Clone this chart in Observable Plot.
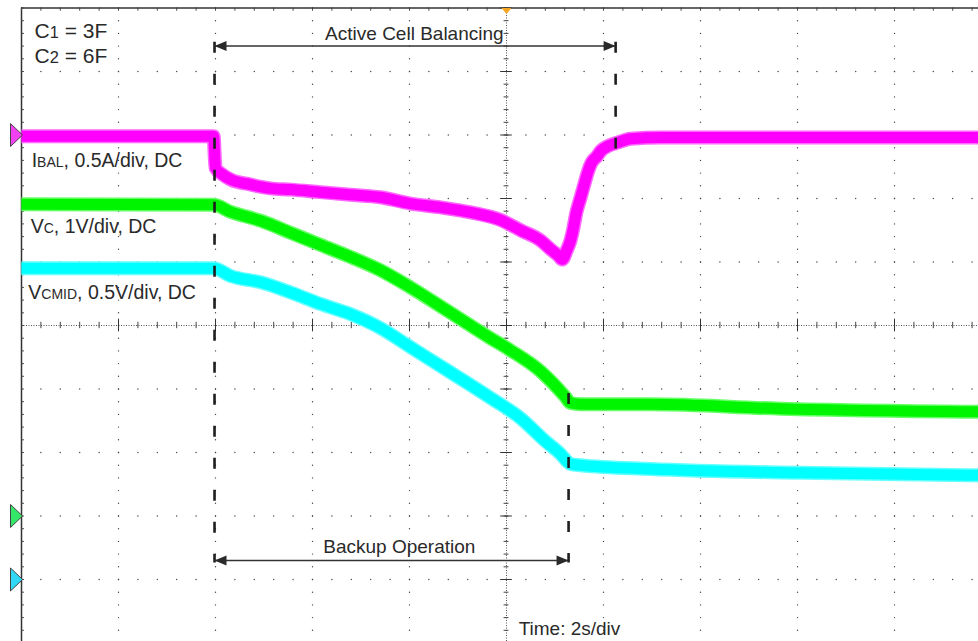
<!DOCTYPE html>
<html><head><meta charset="utf-8">
<script src="https://cdn.jsdelivr.net/npm/d3@7"></script>
<script src="https://cdn.jsdelivr.net/npm/@observablehq/plot@0.6"></script>
<style>
html,body{margin:0;padding:0;background:#fff;}
#chart{width:978px;height:641px;overflow:hidden;}
</style></head><body><div id="chart"></div>
<script>
// ---- data read from the scope capture (time in s, 2 s/div, trigger at centre) ----
const ibalTime = [-10, -6.04, -6.0, -5.86, -5.69, -5.28, -4.87, -4.45, -3.84, -3.22, -2.60, -1.98, -1.36, -0.74, -0.12, 0.29, 0.70, 0.91, 1.07, 1.15, 1.24, 1.32, 1.37, 1.44, 1.53, 1.61, 1.67, 1.75, 1.86, 1.96, 2.08, 2.29, 2.56, 3.18, 10];
const ibalAmps = [-0.01, -0.01, -0.26, -0.31, -0.35, -0.39, -0.42, -0.43, -0.45, -0.47, -0.49, -0.54, -0.57, -0.61, -0.67, -0.75, -0.83, -0.90, -0.95, -0.98, -0.91, -0.83, -0.75, -0.61, -0.49, -0.38, -0.30, -0.22, -0.17, -0.12, -0.09, -0.06, -0.03, -0.02, -0.02];
const vcTime = [-10, -6.04, -5.69, -5.07, -4.45, -3.84, -3.22, -2.60, -1.98, -1.15, -0.33, 0.08, 0.70, 1.22, 1.32, 1.53, 2.97, 5.65, 10];
const vcVolts = [4.91, 4.90, 4.79, 4.65, 4.46, 4.27, 4.08, 3.87, 3.60, 3.20, 2.80, 2.61, 2.28, 1.87, 1.78, 1.76, 1.76, 1.69, 1.64];
const vcmidTime = [-10, -6.04, -5.69, -5.07, -4.45, -3.84, -3.22, -2.60, -1.98, -1.15, -0.33, 0.29, 0.80, 1.11, 1.32, 1.53, 2.97, 6.06, 10];
const vcmidVolts = [2.45, 2.45, 2.39, 2.34, 2.26, 2.17, 2.09, 1.98, 1.83, 1.63, 1.43, 1.27, 1.09, 0.99, 0.91, 0.90, 0.87, 0.84, 0.82];

const channelLabels = ["IBAL, 0.5A/div, DC", "VC, 1V/div, DC", "VCMID, 0.5V/div, DC"];
const unitsPerDiv = [0.5, 1, 0.5];
const groundDiv = [3, -3, -4];
const traceColors = ["#ff00ff", "#00f500", "#00ffff"];
const haloColors = ["#ff66ff", "#66ff66", "#66ffff"];
const markerColors = ["#f040f0", "#33e866", "#30d8f5"];

const backupStart = -6.02;
const backupEnd = 1.28;
const balanceEnd = 2.25;
const annotationTexts = ["C1 = 3F", "C2 = 6F", "Active Cell Balancing", "Backup Operation", "Time: 2s/div"];

// ---- build tables ----
const series = [[ibalTime, ibalAmps], [vcTime, vcVolts], [vcmidTime, vcmidVolts]];
const traces = series.map(([T, V], i) => T.map((t, j) => ({ch: i, t, div: V[j] / unitsPerDiv[i] + groundDiv[i]})));

const gridDots = [];
for (const t of [-8, -6, -4, -2, 2, 4, 6, 8]) for (const d of d3.range(-25, 26)) gridDots.push({t, d: d / 5});
for (const d of [-4, -3, -2, -1, 1, 2, 3, 4]) for (const k of d3.range(-25, 26)) gridDots.push({t: k * 0.4, d});
const minorT = d3.range(-25, 26).map(k => k * 0.4);
const majorT = d3.range(-5, 6).map(k => k * 2);
const minorD = d3.range(-25, 26).map(k => k / 5);
const majorD = d3.range(-5, 6);

const arrowRight = {draw(c) { c.moveTo(0, 0); c.lineTo(-12, -5); c.lineTo(-12, 5); c.closePath(); }};
const arrowLeft = {draw(c) { c.moveTo(0, 0); c.lineTo(12, -5); c.lineTo(12, 5); c.closePath(); }};
const chanMarker = {draw(c) { c.moveTo(1, 0); c.lineTo(-11, -11.5); c.lineTo(-11, 11.5); c.closePath(); }};
const trigMarker = {draw(c) { c.moveTo(-5, 0); c.lineTo(5, 0); c.lineTo(0, 6); c.closePath(); }};

const ink = "#2a2a2a";
const dash = {stroke: "#1e1e1e", strokeWidth: 2.6, strokeDasharray: "11,21"};

const marks = [
  Plot.dot(gridDots, {x: "t", y: "d", r: 0.7, fill: "#444", stroke: null}),
  // centre graticule lines
  Plot.ruleX([0], {stroke: "#555", strokeWidth: 1, strokeDasharray: "1,1.5"}),
  Plot.ruleY([0], {stroke: "#555", strokeWidth: 1, strokeDasharray: "1,1.5"}),
  Plot.ruleX(minorT, {x: d => d, y1: -0.05, y2: 0.05, stroke: "#444"}),
  Plot.ruleX(majorT, {x: d => d, y1: -0.1, y2: 0.1, stroke: "#333"}),
  Plot.ruleY(minorD, {y: d => d, x1: -0.05, x2: 0.05, stroke: "#444"}),
  Plot.ruleY(majorD, {y: d => d, x1: -0.12, x2: 0.12, stroke: "#333"}),
  // border
  Plot.ruleX([-10], {stroke: "#333", strokeWidth: 1.5}),
  Plot.ruleY([5], {stroke: "#333", strokeWidth: 1.5}),
  Plot.ruleY(minorD, {y: d => d, x1: -10, x2: -9.94, stroke: "#444"}),
  Plot.ruleX(minorT, {x: d => d, y1: 5, y2: 4.95, stroke: "#444"}),
];
// traces (halo + core)
traces.forEach((rows, i) => {
  marks.push(Plot.line(rows, {x: "t", y: "div", curve: "monotone-x", stroke: haloColors[i], strokeWidth: 14, strokeLinecap: "butt", strokeLinejoin: "round"}));
});
traces.forEach((rows, i) => {
  marks.push(Plot.line(rows, {x: "t", y: "div", curve: "monotone-x", stroke: traceColors[i], strokeWidth: 11, strokeLinecap: "butt", strokeLinejoin: "round"}));
});
marks.push(
  // dashed event lines
  Plot.ruleX([backupStart], {y1: 4.46, y2: -3.74, ...dash}),
  Plot.ruleX([balanceEnd], {y1: 4.46, y2: 2.78, ...dash}),
  Plot.ruleX([backupEnd], {y1: -1.07, y2: -3.74, ...dash}),
  // arrows
  Plot.ruleY([4.40], {x1: backupStart, x2: balanceEnd, stroke: "#333", strokeWidth: 1.5}),
  Plot.ruleY([-3.70], {x1: backupStart, x2: backupEnd, stroke: "#333", strokeWidth: 1.5}),
  Plot.dot([backupStart], {x: d => d, y: 4.40, symbol: arrowLeft, fill: ink, stroke: null}),
  Plot.dot([balanceEnd], {x: d => d, y: 4.40, symbol: arrowRight, fill: ink, stroke: null}),
  Plot.dot([backupStart], {x: d => d, y: -3.70, symbol: arrowLeft, fill: ink, stroke: null}),
  Plot.dot([backupEnd], {x: d => d, y: -3.70, symbol: arrowRight, fill: ink, stroke: null}),
  // channel ground markers & trigger marker
  Plot.dot(groundDiv.map((g, i) => ({g, i})), {x: -10, y: "g", symbol: chanMarker, fill: d => markerColors[d.i], stroke: "#444", strokeWidth: 1}),
  Plot.dot([0], {x: d => d, y: 5, symbol: trigMarker, fill: "#f5a623", stroke: null}),
  // channel labels
  Plot.text(channelLabels, {x: [-9.79, -9.81, -9.86], y: [2.50, 1.46, 0.41], text: d => d, textAnchor: "start", lineAnchor: "bottom", fontSize: 19.5, fill: ink}),
  Plot.text(annotationTexts, {
    x: [-9.73, -9.73, -1.90, -2.21, 0.25],
    y: [4.53, 4.14, 4.50, -3.59, -4.88],
    text: d => d,
    lineAnchor: "bottom", fontSize: 19, fill: ink
  })
);

const chart = Plot.plot({
  width: 978, height: 641,
  marginLeft: 21, marginTop: 7.5, marginRight: 0, marginBottom: 0,
  x: {domain: [-10, 10], range: [21, 991], axis: null},
  y: {domain: [-5, 5], range: [642.5, 7.5], axis: null},
  color: {type: "identity"},
  style: {fontFamily: "Arial, 'Liberation Sans', sans-serif", background: "#fff", overflow: "hidden"},
  marks
});

// text anchors and rich (small-caps / subscript) spans
const ns = "http://www.w3.org/2000/svg";
const rich = {
  "IBAL, 0.5A/div, DC": [["I", 1], ["BAL", 0.72], [", 0.5A/div, DC", 1]],
  "VC, 1V/div, DC": [["V", 1], ["C", 0.72], [", 1V/div, DC", 1]],
  "VCMID, 0.5V/div, DC": [["V", 1], ["CMID", 0.72], [", 0.5V/div, DC", 1]],
  "C1 = 3F": [["C", 1], ["1", 0.78], [" = 3F", 1]],
  "C2 = 6F": [["C", 1], ["2", 0.78], [" = 6F", 1]]
};
const centred = new Set(["Active Cell Balancing", "Backup Operation"]);
chart.querySelectorAll("text").forEach(el => {
  const s = el.textContent;
  if (centred.has(s)) el.setAttribute("text-anchor", "middle");
  else el.setAttribute("text-anchor", "start");
  const parts = rich[s];
  if (!parts) return;
  const base = s.startsWith("C") ? 21 : 19.5;
  el.textContent = "";
  el.setAttribute("font-size", base);
  for (const [str, k] of parts) {
    const ts = document.createElementNS(ns, "tspan");
    ts.textContent = str;
    ts.setAttribute("font-size", (base * k).toFixed(1));
    el.appendChild(ts);
  }
});
document.getElementById("chart").appendChild(chart);
</script></body></html>
